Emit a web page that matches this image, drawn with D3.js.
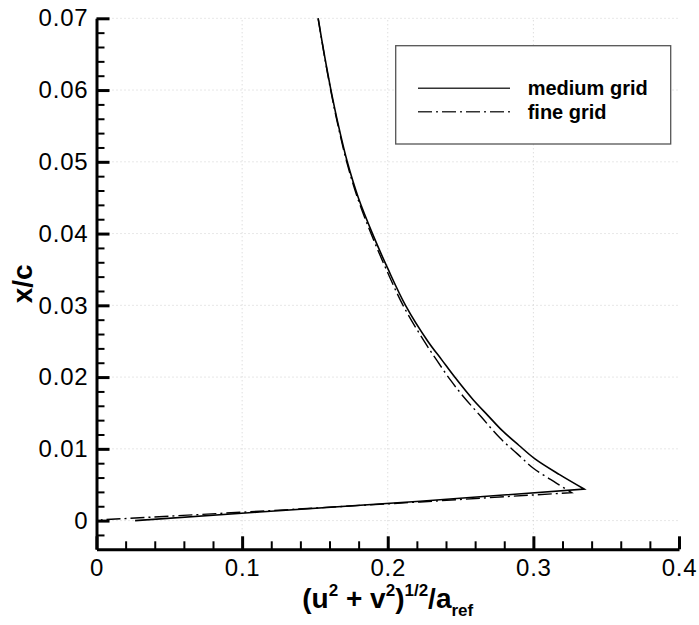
<!DOCTYPE html>
<html><head><meta charset="utf-8">
<script src="https://cdn.jsdelivr.net/npm/d3@7"></script>
<style>
html,body{margin:0;padding:0;background:#fff;}
svg{display:block;font-family:"Liberation Sans",Arial,Helvetica,sans-serif;}
</style></head>
<body>
<svg id="chart" width="699" height="625"></svg>
<script>
// ---- data ----
// upper branch (top of chart down to the tip), then the straight lower branch
const mediumX = [0.1522,0.1564,0.1610,0.1662,0.1722,0.1798,0.1895,0.2003,0.2122,0.2275,0.2371,0.2460,0.2588,0.2690,0.2783,0.2900,0.3011,0.3180,0.3348];
const mediumY = [0.0700,0.0650,0.0600,0.0550,0.0500,0.0450,0.0400,0.0350,0.0300,0.0250,0.0224,0.0200,0.0168,0.0146,0.0126,0.0105,0.0086,0.0064,0.0044];
const mediumLowX = [0.3348,0.2222,0.1120,0.0265];
const mediumLowY = [0.0044,0.0027,0.0012,0.0000];
const fineX = [0.1522,0.1563,0.1608,0.1659,0.1718,0.1792,0.1885,0.1990,0.2105,0.2250,0.2335,0.2430,0.2519,0.2640,0.2771,0.2890,0.3000,0.3160,0.3263];
const fineY = [0.0700,0.0650,0.0600,0.0550,0.0500,0.0450,0.0400,0.0350,0.0300,0.0250,0.0224,0.0196,0.0173,0.0145,0.0115,0.0093,0.0073,0.0052,0.0039];
const fineLowX = [0.3263,0.2222,0.1120,0.0030];
const fineLowY = [0.0039,0.0026,0.0013,0.0001];
const xTicks = [0,0.1,0.2,0.3,0.4];
const xTickLabels = ["0","0.1","0.2","0.3","0.4"];
const yTicks = [0,0.01,0.02,0.03,0.04,0.05,0.06,0.07];
const yTickLabels = ["0","0.01","0.02","0.03","0.04","0.05","0.06","0.07"];
const seriesNames = ["medium grid","fine grid"];

// ---- layout ----
const svg = d3.select("#chart");
const x = d3.scaleLinear().domain([0,0.4]).range([96.5,679]);
const y = d3.scaleLinear().domain([-0.004,0.07]).range([549.3,18.3]);

// gridlines
const grid = svg.append("g").attr("stroke","#cfcfcf").attr("stroke-width",1).attr("stroke-dasharray","1,3");
grid.selectAll("line.h").data(yTicks).enter().append("line")
  .attr("x1",x(0)).attr("x2",x(0.4)).attr("y1",d=>y(d)).attr("y2",d=>y(d));
grid.selectAll("line.v").data(xTicks.filter(d=>d>0 && d<0.4)).enter().append("line")
  .attr("y1",y(-0.004)).attr("y2",y(0.07)).attr("x1",d=>x(d)).attr("x2",d=>x(d));

// curves
const smooth = d3.line().x(d=>x(d[0])).y(d=>y(d[1])).curve(d3.curveCatmullRom.alpha(0.5));
const straight = d3.line().x(d=>x(d[0])).y(d=>y(d[1]));
function pathFor(ux,uy,lx,ly){
  const up = ux.map((v,i)=>[v,uy[i]]);
  const lo = lx.map((v,i)=>[v,ly[i]]);
  return smooth(up) + straight(lo).replace(/^M/,"L");
}
svg.append("path").attr("d",pathFor(fineX,fineY,fineLowX,fineLowY)).attr("fill","none")
  .attr("stroke","#000").attr("stroke-width",1.4).attr("stroke-dasharray","14,4,2,4");
svg.append("path").attr("d",pathFor(mediumX,mediumY,mediumLowX,mediumLowY)).attr("fill","none")
  .attr("stroke","#000").attr("stroke-width",1.6);

// axes
function styleAxis(g, w){
  g.select(".domain").attr("stroke","#000").attr("stroke-width",3);
  g.selectAll(".tick line").attr("stroke","#000").attr("stroke-width",w);
}
const yMinor = d3.range(-0.002,0.0701,0.002).filter(v=>Math.abs(Math.round(v*100)-v*100)>1e-6);
const xMinor = d3.range(0.02,0.4,0.02).filter(v=>Math.abs(Math.round(v*10)-v*10)>1e-6);

svg.append("g").attr("transform",`translate(${x(0)},0)`)
  .call(d3.axisLeft(y).tickValues(yMinor).tickSize(-8).tickFormat(""))
  .call(g=>{styleAxis(g,2);g.select(".domain").remove();});
svg.append("g").attr("transform",`translate(0,${y(-0.004)})`)
  .call(d3.axisBottom(x).tickValues(xMinor).tickSize(-8).tickFormat(""))
  .call(g=>{styleAxis(g,2);g.select(".domain").remove();});

const yAxis = svg.append("g").attr("transform",`translate(${x(0)},0)`)
  .call(d3.axisLeft(y).tickValues(yTicks).tickSizeInner(-13).tickSizeOuter(0)
    .tickPadding(8).tickFormat((d,i)=>yTickLabels[i]));
styleAxis(yAxis,3);
yAxis.selectAll("text").attr("font-size",24).attr("fill","#000")
  .attr("font-family","Liberation Sans, Arial, sans-serif").attr("letter-spacing","0.8px");

const xAxis = svg.append("g").attr("transform",`translate(0,${y(-0.004)})`)
  .call(d3.axisBottom(x).tickValues(xTicks).tickSizeInner(-13).tickSizeOuter(0)
    .tickPadding(10).tickFormat((d,i)=>xTickLabels[i]));
styleAxis(xAxis,3);
xAxis.selectAll("text").attr("font-size",24).attr("fill","#000")
  .attr("font-family","Liberation Sans, Arial, sans-serif").attr("letter-spacing","0.8px");

// axis titles
const xt = svg.append("text").attr("x",(x(0)+x(0.4))/2).attr("y",608)
  .attr("text-anchor","middle").attr("font-weight","bold").attr("font-size",28);
xt.append("tspan").text("(u");
xt.append("tspan").text("2").attr("font-size",17).attr("dy",-12);
xt.append("tspan").text(" + v").attr("dy",12);
xt.append("tspan").text("2").attr("font-size",17).attr("dy",-12);
xt.append("tspan").text(")").attr("dy",12);
xt.append("tspan").text("1/2").attr("font-size",17).attr("dy",-12);
xt.append("tspan").text("/a").attr("dy",12);
xt.append("tspan").text("ref").attr("font-size",17).attr("dy",8);

svg.append("text").attr("transform",`translate(32,${(y(-0.004)+y(0.07))/2}) rotate(-90)`)
  .attr("text-anchor","middle").attr("font-weight","bold").attr("font-size",28).text("x/c");

// legend
const lg = svg.append("g");
lg.append("rect").attr("x",395.7).attr("y",45.7).attr("width",275).attr("height",98.3)
  .attr("fill","#fff").attr("stroke","#555").attr("stroke-width",1.3);
const dashes = [null,"14,4,2,4"];
seriesNames.forEach((name,i)=>{
  const ly = 88.3 + i*23.4;
  lg.append("line").attr("x1",418).attr("x2",510).attr("y1",ly).attr("y2",ly)
    .attr("stroke","#333").attr("stroke-width",1.5).attr("stroke-dasharray",dashes[i]);
  lg.append("text").attr("x",527.7).attr("y",ly+7).attr("font-weight","bold")
    .attr("font-size",20).attr("fill","#000").text(name);
});
</script>
</body></html>
